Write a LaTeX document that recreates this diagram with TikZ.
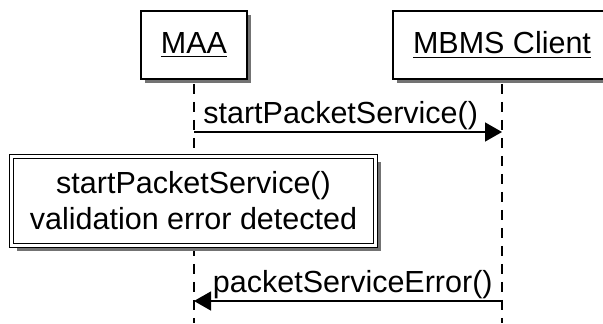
\documentclass[tikz,border=0pt]{standalone}
\usepackage{fontspec}
\setmainfont{Liberation Sans}
\usetikzlibrary{positioning, arrows.meta, shadows}

\tikzset{
  lifebox/.style={draw, line width=0.75pt, fill=white, minimum height=34pt,
    drop shadow={shadow xshift=2pt, shadow yshift=-2pt, fill=black!55, opacity=1}},
  lifeline/.style={line width=0.75pt, dash pattern=on 5pt off 4pt},
  msgline/.style={line width=0.75pt, -{Triangle[length=8.5pt, width=9.5pt]}},
  msglabel/.style={inner sep=0pt},
  notebox/.style={draw, double, double distance=1.4pt, line width=0.6pt, fill=white,
    align=center, inner sep=0pt,
    drop shadow={shadow xshift=2.75pt, shadow yshift=-2.75pt, fill=black!55, opacity=1}}
}

\begin{document}
\begin{tikzpicture}[x=0.5pt, y=-0.5pt, font=\fontsize{15.25}{18}\selectfont]
\useasboundingbox (0,0) rectangle (603,323);
% participants
\node[lifebox, minimum width=53pt] (maa) at (194,45) {\underline{MAA}};
\node[lifebox, minimum width=109pt] (client) at (502,45) {\underline{MBMS Client}};
\coordinate (bottom) at (0,323);
\draw[lifeline] ([yshift=-2pt]maa.south) -- (maa |- bottom);
\draw[lifeline] ([yshift=-2pt]client.south) -- (client |- bottom);
% first message
\coordinate (r1) at (0,132);
\coordinate (s1) at (maa |- r1);
\coordinate (e1) at (client |- r1);
\draw[msgline] (s1) -- (e1);
\node[msglabel, anchor=base west] (lbl1) at ([shift={(4.5pt,4.5pt)}]s1) {startPacketService()};
% note
\node[notebox, minimum width=181.75pt, minimum height=44.75pt] (check) at (193.5,201)
  {startPacketService()\\validation error detected};
% second message
\coordinate (r2) at (0,301);
\coordinate (s2) at (client |- r2);
\coordinate (e2) at (maa |- r2);
\draw[msgline] (s2) -- (e2);
\node[msglabel, anchor=base east] (lbl2) at ([shift={(-4.5pt,4.5pt)}]s2) {packetServiceError()};
\end{tikzpicture}
\end{document}
